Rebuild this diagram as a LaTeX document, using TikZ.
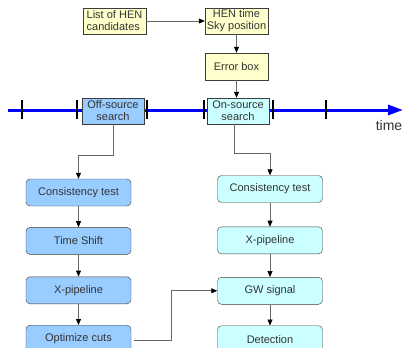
\documentclass[tikz,border=0pt]{standalone}
\usepackage{fontspec}
\setmainfont{Liberation Sans}
\usetikzlibrary{arrows.meta, positioning, calc}
\definecolor{henyellow}{HTML}{FFFFCC}
\definecolor{offblue}{HTML}{99CCFF}
\definecolor{oncyan}{HTML}{CCFFFF}
\definecolor{boxline}{HTML}{3C3C3C}
\definecolor{textgray}{HTML}{333333}
\tikzset{
  hen box/.style={
    rectangle, draw=boxline, fill=henyellow,
    minimum width=63pt, minimum height=26pt,
    font=\fontsize{11}{12}\selectfont, text=textgray,
    inner sep=1pt, align=center
  },
  search box/.style={
    hen box, minimum width=62pt
  },
  off stage/.style={
    rectangle, rounded corners=4pt, draw=boxline, fill=offblue,
    minimum width=105pt, minimum height=27pt,
    font=\fontsize{11}{12}\selectfont, text=textgray,
    inner sep=1pt
  },
  on stage/.style={
    off stage, fill=oncyan
  },
  flow arrow/.style={
    -{Triangle[length=6pt, width=5pt, color=black]}, draw=black!60, line width=0.8pt
  },
  time axis/.style={
    -{Triangle[length=15pt, width=10pt]}, draw=blue, line width=3pt
  },
  time tick/.style={
    draw=black, line width=1.3pt
  }
}

\begin{document}
\begin{tikzpicture}[x=1pt, y=-1pt]
  \useasboundingbox (0,0) rectangle (405,348);

  % time line
  \coordinate (tstart) at (8,110);
  \coordinate (tend) at (403,110);
  \draw [time axis] (tstart) -- (tend);
  \foreach \tx in {22,77,147,204,273,326}
    \draw [time tick] (\tx,100) -- (\tx,119);
  \node (timelbl) at (389,125) [font=\fontsize{14}{16}\selectfont, text=textgray] {time};

  % HEN input
  \node (cand) at (114.5,21) [hen box, align=left] {List of HEN\\candidates};
  \node (hen) at (236.5,21) [hen box] {HEN time\\Sky position};
  \node (err) at (236.5,66.5) [hen box, minimum height=27pt] {Error box};

  \node (off) at (113,111) [search box, fill=offblue] {Off-source\\search};
  \node (on) at (238,111) [search box, fill=oncyan] {On-source\\search};

  % off-source chain
  \node (lct) at (78.5,192.5) [off stage] {Consistency test};
  \node (shift) [off stage, below=21pt of lct] {Time Shift};
  \node (lxp) [off stage, below=22pt of shift] {X-pipeline};
  \node (opt) [off stage, below=21pt of lxp] {Optimize cuts};

  % on-source chain
  \node (rct) at (270,189) [on stage] {Consistency test};
  \node (rxp) [on stage, below=24pt of rct] {X-pipeline};
  \node (gw) [on stage, below=23pt of rxp] {GW signal};
  \node (det) [on stage, below=21pt of gw] {Detection};

  \draw [flow arrow] (cand) -- (hen);
  \draw [flow arrow] (hen) -- (err);
  \draw [flow arrow] (err) -- (err |- on.north);

  \draw [flow arrow] (off.south) -- ++(0,31) -| (lct.north);
  \draw [flow arrow] (lct) -- (shift);
  \draw [flow arrow] (shift) -- (lxp);
  \draw [flow arrow] (lxp) -- (opt);

  \draw [flow arrow] ($(on.south)+(-4,0)$) -- ++(0,29) -| (rct.north);
  \draw [flow arrow] (rct) -- (rxp);
  \draw [flow arrow] (rxp) -- (gw);
  \draw [flow arrow] (gw) -- (det);

  \draw [flow arrow] ($(opt.east)+(3,2)$) -- ++(37,0) |- (gw.west);
\end{tikzpicture}
\end{document}
